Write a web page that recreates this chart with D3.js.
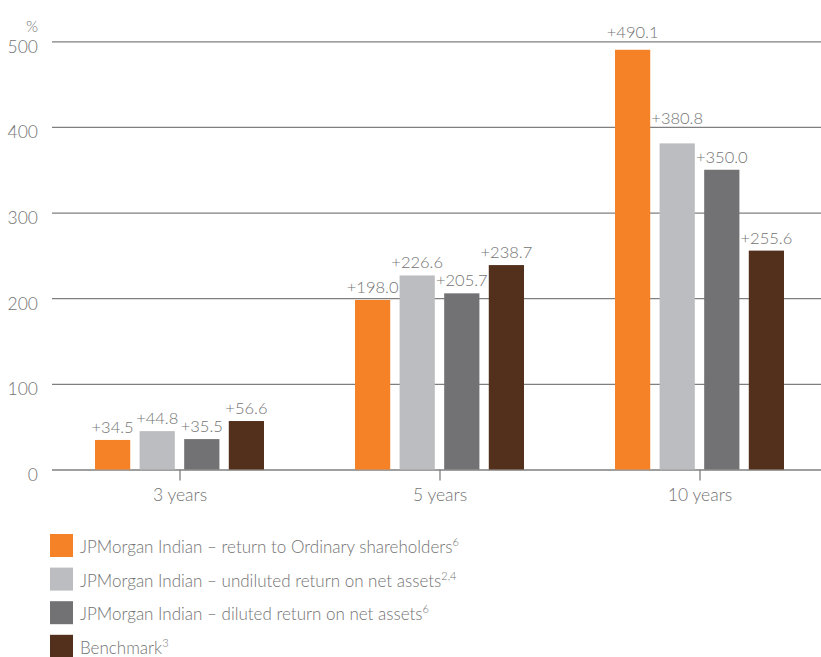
<!DOCTYPE html>
<html>
<head>
<meta charset="utf-8">
<script src="https://cdn.jsdelivr.net/npm/d3@7"></script>
<style>
  body { margin: 0; background: #fff; }
  svg { display: block; font-family: Lato, "Open Sans", sans-serif; font-weight: 300; }
</style>
</head>
<body>
<div id="chart"></div>
<script>
// chart data
const CATEGORIES = ["3 years", "5 years", "10 years"];
const SERIES_NAMES = [
  "JPMorgan Indian \u2013 return to Ordinary shareholders",
  "JPMorgan Indian \u2013 undiluted return on net assets",
  "JPMorgan Indian \u2013 diluted return on net assets",
  "Benchmark"
];
const SERIES_NOTES = ["6", "2,4", "6", "3"];
const ORDINARY_RETURN = [34.5, 198.0, 490.1];
const UNDILUTED_NAV = [44.8, 226.6, 380.8];
const DILUTED_NAV = [35.5, 205.7, 350.0];
const BENCHMARK = [56.6, 238.7, 255.6];
const Y_TICKS = [0, 100, 200, 300, 400, 500];

const SERIES_VALUES = [ORDINARY_RETURN, UNDILUTED_NAV, DILUTED_NAV, BENCHMARK];
const COLORS = ["#f58226", "#bcbdc0", "#727274", "#52301c"];

// frame
const FRAME_WIDTH = 821;
const FRAME_HEIGHT = 657;
const PLOT = {left: 52, right: 821, top: 41.3, bottom: 469.5};
const TEXT_COLOR = "#737373";
const FONT = "Lato, 'Open Sans', sans-serif";

const svg = d3.select("#chart")
  .append("svg")
    .attr("width", FRAME_WIDTH)
    .attr("height", FRAME_HEIGHT);

// scales
const Y_SCALE = d3.scaleLinear()
  .domain([0, 500])
  .range([PLOT.bottom, PLOT.top]);

const X_SCALE = d3.scaleBand()
  .domain(CATEGORIES)
  .range([50, 830])
  .padding(0);

const SERIES_SCALE = d3.scaleBand()
  .domain(d3.range(SERIES_NAMES.length))
  .range([-85, 84])
  .paddingInner(0.21);

// gridlines + y labels
const yAxis = svg.append("g")
  .attr("transform", "translate(" + PLOT.left + ",0)")
  .call(d3.axisLeft(Y_SCALE)
          .tickValues(Y_TICKS)
          .tickSize(-(PLOT.right - PLOT.left))
          .tickPadding(14));
yAxis.select(".domain").remove();
yAxis.selectAll("line").attr("stroke", "#7f7f7f").attr("stroke-width", 1.3);
yAxis.selectAll("text")
  .attr("dy", "0.63em")
  .attr("fill", TEXT_COLOR)
  .attr("font-size", "17.5px")
  .attr("font-weight", 300)
  .attr("font-family", FONT);

svg.append("text")
  .attr("x", 38)
  .attr("y", 32)
  .attr("text-anchor", "end")
  .attr("fill", TEXT_COLOR)
  .attr("font-size", "15.5px")
  .text("%");

// bars
const bars = [];
SERIES_VALUES.forEach((vals, s) => {
  vals.forEach((v, c) => bars.push({s: s, cat: CATEGORIES[c], value: v}));
});

svg.selectAll(".bar")
  .data(bars)
  .enter()
  .append("rect")
    .attr("class", "bar")
    .attr("x", (d) => X_SCALE(d.cat) + X_SCALE.bandwidth() / 2 + SERIES_SCALE(d.s))
    .attr("y", (d) => Y_SCALE(d.value))
    .attr("width", SERIES_SCALE.bandwidth())
    .attr("height", (d) => Y_SCALE(0) - Y_SCALE(d.value))
    .attr("fill", (d) => COLORS[d.s]);

// value labels, lifted above a gridline when they would sit on it
function labelY(d) {
  let base = Y_SCALE(d.value) - 7;
  Y_TICKS.forEach((t) => {
    const gy = Y_SCALE(t);
    if (t > 0 && gy > base - 13 && gy < base + 2) base = gy - 3;
  });
  return base;
}

svg.selectAll(".value")
  .data(bars)
  .enter()
  .append("text")
    .attr("class", "value")
    .attr("x", (d) => X_SCALE(d.cat) + X_SCALE.bandwidth() / 2 + SERIES_SCALE(d.s) + SERIES_SCALE.bandwidth() / 2)
    .attr("y", labelY)
    .attr("text-anchor", "middle")
    .attr("fill", TEXT_COLOR)
    .attr("font-size", "16.5px")
    .text((d) => "+" + d3.format(".1f")(d.value));

// x axis ticks + labels
const xAxis = svg.append("g")
  .attr("transform", "translate(0," + PLOT.bottom + ")")
  .call(d3.axisBottom(X_SCALE).tickSize(11).tickPadding(8));
xAxis.select(".domain").remove();
xAxis.selectAll("line").attr("stroke", "#7f7f7f").attr("stroke-width", 1.3);
xAxis.selectAll("text")
  .attr("fill", TEXT_COLOR)
  .attr("font-size", "17.5px")
  .attr("font-weight", 300)
  .attr("font-family", FONT);

// legend
const legend = svg.selectAll(".legend")
  .data(SERIES_NAMES)
  .enter()
  .append("g")
    .attr("class", "legend")
    .attr("transform", (d, i) => "translate(50," + (534 + i * 33.6) + ")");

legend.append("rect")
  .attr("width", 23)
  .attr("height", 23)
  .attr("fill", (d, i) => COLORS[i]);

const legendText = legend.append("text")
  .attr("x", 30)
  .attr("y", 19)
  .attr("fill", TEXT_COLOR)
  .attr("font-size", "17px");
legendText.append("tspan").text((d) => d);
legendText.append("tspan")
  .attr("dy", -7)
  .attr("font-size", "11px")
  .text((d, i) => SERIES_NOTES[i]);
</script>
</body>
</html>
